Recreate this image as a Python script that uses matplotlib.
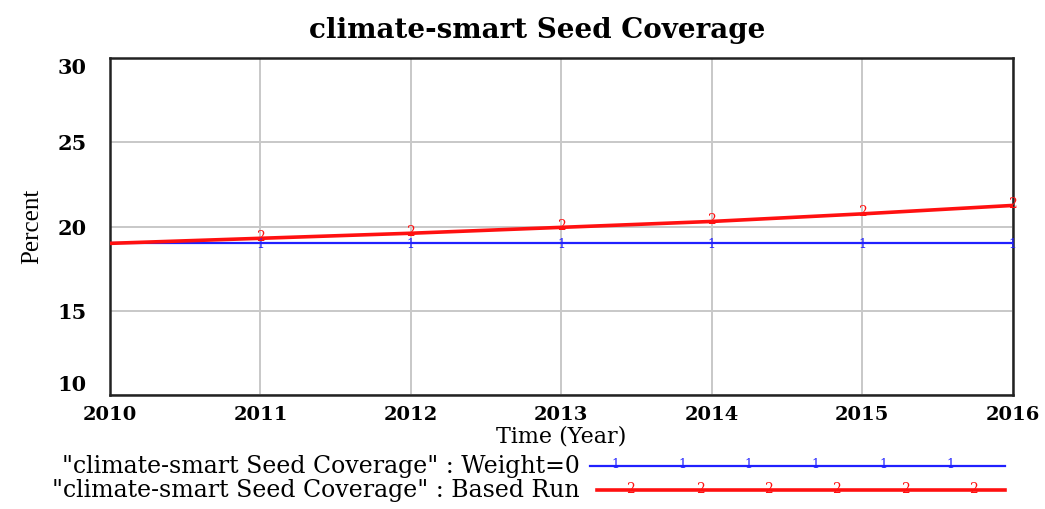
import numpy as np
import matplotlib.pyplot as plt

# Data
years = [2010, 2011, 2012, 2013, 2014, 2015, 2016]
weight0 = [19.0, 19.0, 19.0, 19.0, 19.0, 19.0, 19.0]
based_run = [19.0, 19.3, 19.6, 19.95, 20.3, 20.75, 21.25]
yticks = [10, 15, 20, 25, 30]
label_w0 = '"climate-smart Seed Coverage" : Weight=0'
label_base = '"climate-smart Seed Coverage" : Based Run'

plt.rcParams['font.family'] = ['DejaVu Serif']

fig = plt.figure(figsize=(10.45, 5.09), dpi=100)
ax = fig.add_axes([0.1053, 0.224, 0.8637, 0.662])

ax.plot(years, weight0, color='#2020ff', lw=1.6, zorder=3)
ax.plot(years, based_run, color='#ff1010', lw=2.6, zorder=4)
for x, y in zip(years[1:], weight0[1:]):
    ax.text(x, y - 0.05, '1', color='#2020ff', fontsize=9, ha='center', va='center', zorder=5)
for x, y in zip(years[1:], based_run[1:]):
    ax.text(x, y + 0.1, '2', color='#ff1010', fontsize=10, ha='center', va='center', zorder=5)

ax.set_xlim(2010, 2016)
ax.set_ylim(10, 30)
ax.set_xticks(years)
ax.set_yticks(yticks)
ax.grid(True, color='#c8c8c8', lw=1.4)
ax.tick_params(length=0, labelsize=14, pad=8)
ax.tick_params(axis='y', pad=17, labelsize=15)
for lab in ax.get_xticklabels() + ax.get_yticklabels():
    lab.set_fontweight('bold')
ylabs = ax.get_yticklabels()
ylabs[0].set_va('bottom')
ylabs[-1].set_va('top')
for sp in ax.spines.values():
    sp.set_linewidth(1.8)
    sp.set_color('#222222')

fig.text(537 / 1045, 1 - 30 / 509, 'climate-smart Seed Coverage', fontsize=20,
         fontweight='bold', ha='center', va='center')
ax.set_xlabel('Time (Year)', fontsize=16, labelpad=1)
ax.set_ylabel('Percent', fontsize=18, labelpad=10, family=['Liberation Serif'])

# legend drawn below the plot
lg = fig.add_axes([0, 0, 1, 1], facecolor='none')
lg.set_xlim(0, 1045)
lg.set_ylim(509, 0)
lg.axis('off')
lg.text(580, 466, label_w0, fontsize=17, ha='right', va='center')
lg.text(580, 490, label_base, fontsize=17, ha='right', va='center')
lg.plot([590, 1005], [466, 466], color='#2020ff', lw=1.6)
lg.plot([597, 1005], [490, 490], color='#ff1010', lw=2.6)
for mx in [615, 682, 748, 815, 883, 950]:
    lg.text(mx, 465, '1', color='#2020ff', fontsize=9, ha='center', va='center')
for mx in [630, 700, 768, 836, 905, 973]:
    lg.text(mx, 489, '2', color='#ff1010', fontsize=10, ha='center', va='center')

fig.savefig('out.png', dpi=100)
